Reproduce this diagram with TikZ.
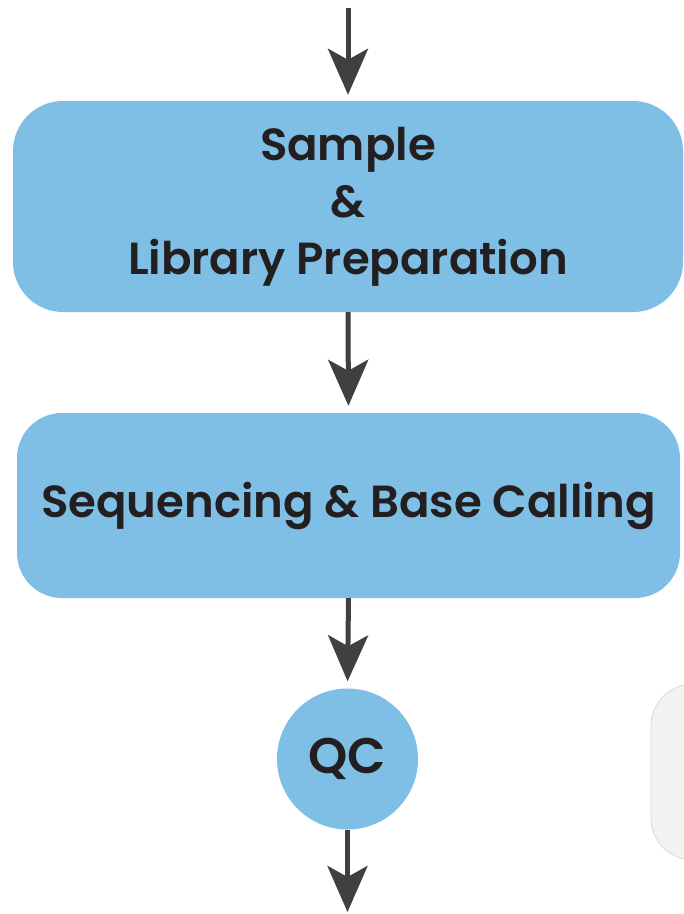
\documentclass[tikz,border=0pt]{standalone}
\usepackage{fontspec}
\setmainfont{Poppins}[BoldFont={Poppins SemiBold}]
\usetikzlibrary{arrows.meta}
\definecolor{stepblue}{HTML}{7FBFE6}
\definecolor{arrowgray}{HTML}{404040}
\definecolor{inktext}{HTML}{231F20}
\tikzset{
  stepbox/.style={draw=none, fill=stepblue, rectangle, inner sep=0pt,
    text=inktext, font=\bfseries\fontsize{45}{57}\selectfont, align=center},
  qcnode/.style={circle, fill=stepblue, inner sep=0pt, minimum size=141pt,
    text=inktext, font=\bfseries\fontsize{50}{57}\selectfont},
  flow/.style={draw=arrowgray, line width=5pt,
    -{Stealth[length=46pt, width=40pt, inset=11pt]}},
  sidecard/.style={rectangle, rounded corners=42pt, fill=black!5, draw=black!12,
    line width=1pt, minimum width=120pt, minimum height=176pt}
}
\begin{document}
\begin{tikzpicture}[x=1pt, y=-1pt]
  \useasboundingbox (0,0) rectangle (684,914);
  \fill[white] (0,0) rectangle (684,914);

  % partially visible card at the right margin
  \node[sidecard] (side) at (711,772) {};

  % process steps
  \node[stepbox, rounded corners=50pt, minimum width=670pt, minimum height=211pt]
    (prep) at (348,206.5) {Sample\\\&\\Library Preparation};
  \node[stepbox, rounded corners=45pt, minimum width=663pt, minimum height=185pt]
    (seq) at (348.5,505.5) {Sequencing \& Base Calling};
  \node[qcnode] (qc) at (347.5,759) {QC};

  \coordinate (entry) at (348,8);
  \coordinate (exit) at (347.5,912);

  % connectors
  \draw[flow, shorten >=6pt] (entry) -- (prep.north);
  \draw[flow, shorten >=7pt] (prep.south) -- (seq.north);
  \draw[flow, shorten >=7pt] (seq.south) -- (qc.north);
  \draw[flow] (qc.south) -- (exit);
\end{tikzpicture}
\end{document}
